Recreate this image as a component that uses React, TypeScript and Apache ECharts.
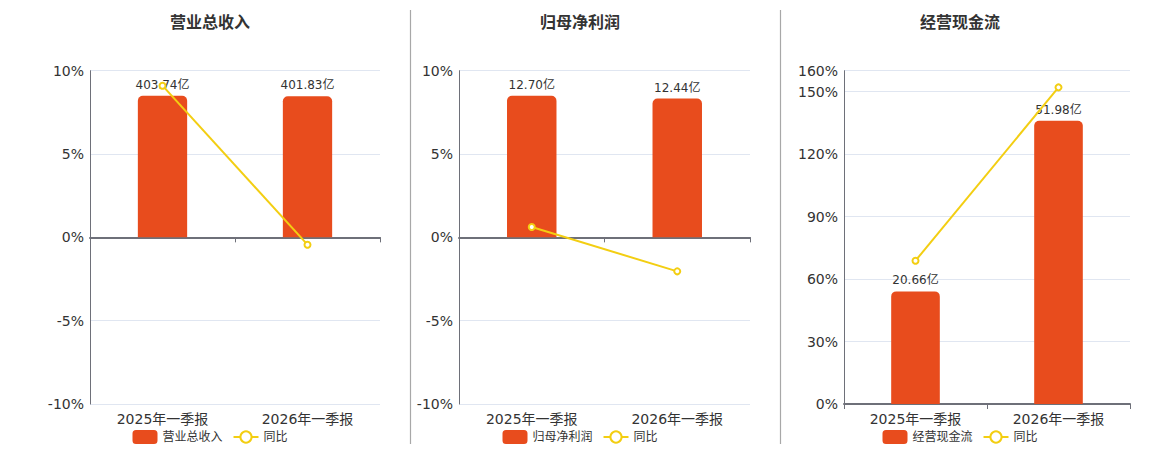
import React, { useEffect, useRef } from "react";
import * as echarts from "echarts";

const categories = ["2025年一季报", "2026年一季报"];

const revenueName = "营业总收入";
const revenueValues = [403.74, 401.83];
const revenueYoy = [9.1, -0.44];

const profitName = "归母净利润";
const profitValues = [12.7, 12.44];
const profitYoy = [0.62, -2.04];

const cashName = "经营现金流";
const cashValues = [20.66, 51.98];
const cashYoy = [68.8, 152.0];

const yoyName = "同比";

const BAR_COLOR = "#E84C1D";
const LINE_COLOR = "#F3CE12";
const FONT = 'Verdana, "DejaVu Sans", "Noto Sans CJK SC", sans-serif';

type Panel = {
  name: string;
  values: number[];
  yoy: number[];
  pctMin: number;
  pctMax: number;
  pctInterval: number;
  symmetric: boolean;
  gridLeft: number;
  gridWidth: number;
  center: number;
};

const panels: Panel[] = [
  { name: revenueName, values: revenueValues, yoy: revenueYoy, pctMin: -10, pctMax: 10, pctInterval: 5, symmetric: true, gridLeft: 90, gridWidth: 290, center: 210 },
  { name: profitName, values: profitValues, yoy: profitYoy, pctMin: -10, pctMax: 10, pctInterval: 5, symmetric: true, gridLeft: 459, gridWidth: 291, center: 580 },
  { name: cashName, values: cashValues, yoy: cashYoy, pctMin: 0, pctMax: 160, pctInterval: 30, symmetric: false, gridLeft: 844, gridWidth: 286, center: 960 },
];

export default function App() {
  const ref = useRef<HTMLDivElement>(null);
  useEffect(() => {
    document.body.style.margin = "0";
    if (!ref.current) return;
    const chart = echarts.init(ref.current, undefined, { renderer: "svg" });

    const grid: any[] = [];
    const xAxis: any[] = [];
    const yAxis: any[] = [];
    const series: any[] = [];
    const legend: any[] = [];
    const graphic: any[] = [];

    panels.forEach((p, i) => {
      grid.push({ left: p.gridLeft, top: 70.7, width: p.gridWidth, height: 333.3 });
      xAxis.push({
        type: "category",
        gridIndex: i,
        data: categories,
        position: "bottom",
        axisLine: { show: false, onZero: false },
        axisTick: { show: false },
        axisLabel: { color: "#333", fontSize: 14, margin: 8, fontFamily: FONT },
      });
      xAxis.push({
        type: "category",
        gridIndex: i,
        data: categories,
        position: "bottom",
        axisLine: { show: true, onZero: true, onZeroAxisIndex: i * 2, lineStyle: { color: "#6E7079", width: 2 } },
        axisTick: { show: true, length: 5, lineStyle: { color: "#6E7079" } },
        axisLabel: { show: false },
      });
      yAxis.push({
        type: "value",
        gridIndex: i,
        min: p.pctMin,
        max: p.pctMax,
        interval: p.pctInterval,
        axisLine: { show: true, lineStyle: { color: "#6E7079" } },
        axisTick: { show: false },
        axisLabel: { formatter: "{value}%", color: "#333", fontSize: 14, fontFamily: FONT, margin: 6 },
        splitLine: { show: true, lineStyle: { color: "#E0E6F1" } },
      });
      const m = Math.max(...p.values) / 0.85;
      yAxis.push({
        type: "value",
        gridIndex: i,
        min: p.symmetric ? -m : 0,
        max: m,
        show: false,
        splitLine: { show: false },
      });
      series.push({
        type: "bar",
        name: p.name,
        xAxisIndex: i * 2,
        yAxisIndex: i * 2 + 1,
        data: p.values,
        barWidth: "34%",
        itemStyle: { color: BAR_COLOR, borderRadius: [5, 5, 0, 0] },
        label: {
          show: true,
          position: "top",
          distance: 5,
          color: "#333",
          fontSize: 12,
          fontFamily: FONT,
          formatter: (v: any) => `${v.value.toFixed(2)}亿`,
        },
        z: 2,
      });
      series.push({
        type: "line",
        name: yoyName,
        xAxisIndex: i * 2,
        yAxisIndex: i * 2,
        data: p.yoy,
        symbol: "emptyCircle",
        symbolSize: 6,
        lineStyle: { color: LINE_COLOR, width: 2 },
        itemStyle: { color: LINE_COLOR },
        z: 3,
      });
      legend.push({
        left: p.center - 82.5,
        top: 425,
        itemWidth: 25,
        itemHeight: 14,
        itemGap: 10,
        data: [{ name: p.name, icon: "roundRect" }, { name: yoyName }],
        textStyle: { color: "#333", fontSize: 12, fontFamily: FONT },
        selectedMode: false,
      });
      graphic.push({
        type: "text",
        x: p.center,
        y: 22,
        style: {
          text: p.name,
          fontSize: 16,
          fontWeight: "bold",
          fill: "#333",
          align: "center",
          verticalAlign: "middle",
          fontFamily: FONT,
        },
      });
    });

    graphic.push({
      type: "line",
      shape: { x1: 410.5, y1: 10, x2: 410.5, y2: 444 },
      style: { stroke: "#A8A8A8", lineWidth: 1.2 },
    });
    graphic.push({
      type: "line",
      shape: { x1: 780.5, y1: 10, x2: 780.5, y2: 444 },
      style: { stroke: "#A8A8A8", lineWidth: 1.2 },
    });

    chart.setOption({
      animation: false,
      textStyle: { fontFamily: FONT },
      grid,
      xAxis,
      yAxis,
      series,
      legend,
      graphic,
    });
    return () => chart.dispose();
  }, []);
  return <div ref={ref} style={{ width: 1160, height: 450 }} />;
}
